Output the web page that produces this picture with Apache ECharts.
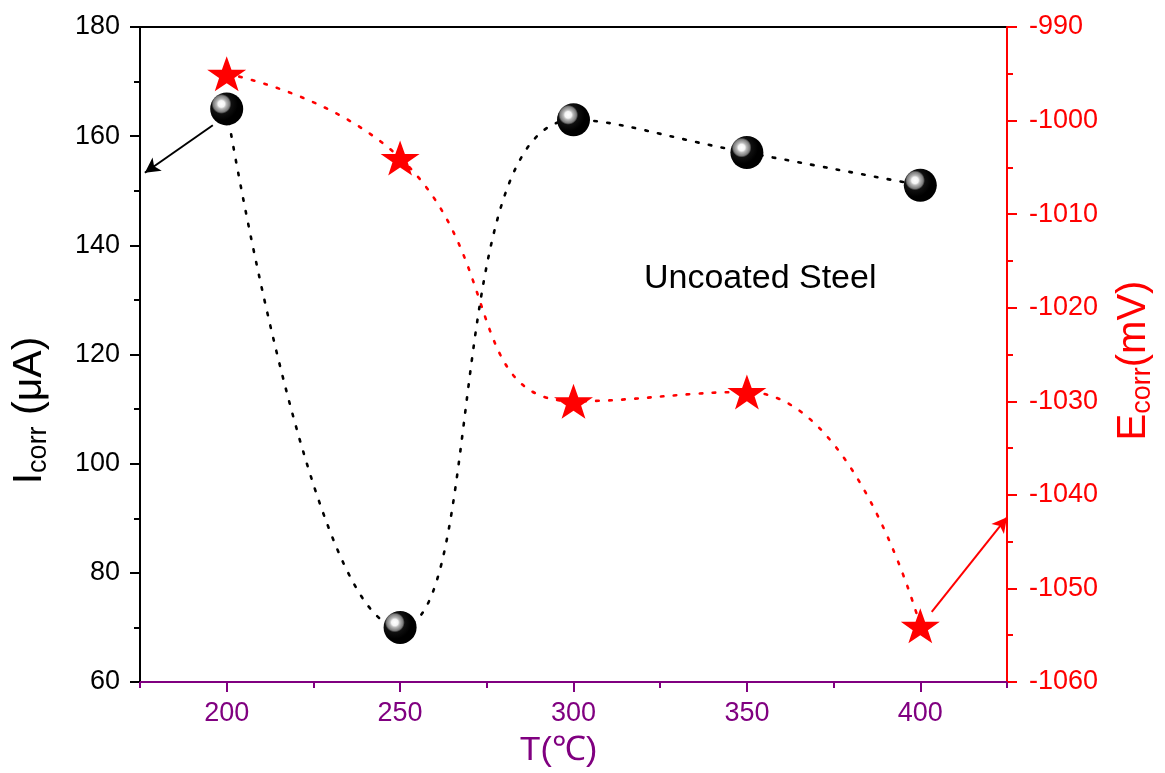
<!DOCTYPE html>
<html>
<head>
<meta charset="utf-8">
<script src="https://cdn.jsdelivr.net/npm/echarts@6/dist/echarts.min.js"></script>
<style>html,body{margin:0;padding:0;background:#fff}#c{width:1165px;height:773px}</style>
</head>
<body>
<div id="c"></div>
<script>
var temps = [200, 250, 300, 350, 400];
var icorr = [165, 70, 163, 157, 151];
var ecorr = [-995, -1004, -1030, -1029, -1054];
var xMajorTicks = [200, 250, 300, 350, 400];
var xMinorTicks = [175, 225, 275, 325, 375, 425];
var blackArrow = [[196, 162], [176.4, 153.3]];
var redArrow = [[403.3, -1052.5], [425, -1042.4]];
var annotation = 'Uncoated Steel';

var FONT = '"Liberation Sans", Arial, Helvetica, sans-serif';
var PURPLE = '#800080';
var STAR = 'path://M50,0 L61.8,35.1 L98.1,35.1 L68.8,56.7 L79.4,91 L50,70 L20.6,91 L31.2,56.7 L1.9,35.1 L38.2,35.1 Z';
var plain = function (v) { return String(v); };

var chart = echarts.init(document.getElementById('c'), null, {renderer: 'canvas'});
chart.setOption({
  animation: false,
  backgroundColor: '#fff',
  textStyle: {fontFamily: FONT},
  grid: {left: 140, right: 158, top: 27, bottom: 91, show: true, borderColor: '#000', borderWidth: 2, backgroundColor: 'transparent'},
  xAxis: [{
    type: 'value', min: 175, max: 425, interval: 25,
    axisLine: {lineStyle: {color: PURPLE, width: 2}},
    axisTick: {show: true, inside: false, length: 10, customValues: xMajorTicks, lineStyle: {color: PURPLE, width: 2}},
    axisLabel: {customValues: xMajorTicks, color: PURPLE, fontSize: 27, margin: 18, fontFamily: FONT, formatter: plain},
    splitLine: {show: false},
    name: 'T(℃)', nameLocation: 'middle', nameGap: 52,
    nameTextStyle: {color: PURPLE, fontSize: 34, fontFamily: FONT, padding: [0, 30, 0, 0]}
  }, {
    type: 'value', min: 175, max: 425, interval: 25, position: 'bottom',
    axisLine: {show: false},
    axisTick: {show: true, inside: false, length: 6, customValues: xMinorTicks, lineStyle: {color: PURPLE, width: 2}},
    axisLabel: {show: false},
    splitLine: {show: false}
  }],
  yAxis: [{
    type: 'value', min: 60, max: 180, interval: 20, position: 'left',
    axisLine: {show: true, lineStyle: {color: '#000', width: 2}},
    axisTick: {show: true, inside: false, length: 10, lineStyle: {color: '#000', width: 2}},
    minorTick: {show: true, splitNumber: 2, length: 6, lineStyle: {color: '#000', width: 2}},
    axisLabel: {color: '#000', fontSize: 27, margin: 20, fontFamily: FONT, formatter: plain},
    splitLine: {show: false},
    name: '{a|I}{b|corr}{a| (μA)}', nameLocation: 'middle', nameGap: 88,
    nameTextStyle: {color: '#000', fontFamily: FONT, padding: [0, 112, 0, 0],
      rich: {a: {fontSize: 41, fontFamily: FONT, color: '#000'}, b: {fontSize: 27, fontFamily: FONT, color: '#000', padding: [18, 0, 0, 0]}}}
  }, {
    type: 'value', min: -1060, max: -990, interval: 10, position: 'right',
    axisLine: {show: true, lineStyle: {color: '#ff0000', width: 2}},
    axisTick: {show: true, inside: false, length: 10, lineStyle: {color: '#ff0000', width: 2}},
    minorTick: {show: true, splitNumber: 2, length: 6, lineStyle: {color: '#ff0000', width: 2}},
    axisLabel: {color: '#ff0000', fontSize: 27, margin: 22, fontFamily: FONT, formatter: plain},
    splitLine: {show: false},
    name: '{a|E}{b|corr}{a|(mV)}', nameLocation: 'middle', nameGap: 104,
    nameTextStyle: {color: '#ff0000', fontFamily: FONT, padding: [0, 12, 0, 0],
      rich: {a: {fontSize: 40, fontFamily: FONT, color: '#ff0000'}, b: {fontSize: 27, fontFamily: FONT, color: '#ff0000', padding: [18, 0, 0, 0]}}}
  }],
  series: [{
    name: 'Ecorr', type: 'line', xAxisIndex: 0, yAxisIndex: 1,
    data: temps.map(function (t, i) { return [t, ecorr[i]]; }),
    smooth: 0.5,
    symbol: STAR, symbolSize: [39, 37], symbolKeepAspect: true,
    itemStyle: {color: '#ff0000', borderWidth: 0},
    lineStyle: {color: '#ff0000', width: 2.6, type: [2.6, 10.4], cap: 'round'},
    z: 3,
    markLine: {
      silent: true, symbol: ['none', 'arrow'], symbolSize: [12, 15],
      label: {show: false},
      lineStyle: {color: '#ff0000', width: 2, type: 'solid'},
      data: [[{coord: redArrow[0]}, {coord: redArrow[1]}]]
    }
  }, {
    name: 'Icorr', type: 'line', xAxisIndex: 0, yAxisIndex: 0,
    data: temps.map(function (t, i) { return [t, icorr[i]]; }),
    smooth: 0.5,
    symbol: 'circle', symbolSize: 33,
    itemStyle: {
      borderWidth: 0,
      color: {type: 'radial', x: 0.34, y: 0.35, r: 0.5, colorStops: [
        {offset: 0, color: '#ffffff'}, {offset: 0.2, color: '#f4f4f4'},
        {offset: 0.3, color: '#b8b8b8'}, {offset: 0.5, color: '#7a7a7a'},
        {offset: 0.6, color: '#101010'}, {offset: 1, color: '#000000'}]}
    },
    lineStyle: {color: '#000', width: 2.6, type: [2.6, 10.4], cap: 'round'},
    z: 4,
    markLine: {
      silent: true, symbol: ['none', 'arrow'], symbolSize: [12, 15],
      label: {show: false},
      lineStyle: {color: '#000', width: 2, type: 'solid'},
      data: [[{coord: blackArrow[0]}, {coord: blackArrow[1]}]]
    }
  }],
  graphic: [{
    type: 'text', left: 644, top: 262, z: 10,
    style: {text: annotation, fill: '#000', font: '34px ' + FONT}
  }]
});
</script>
</body>
</html>
